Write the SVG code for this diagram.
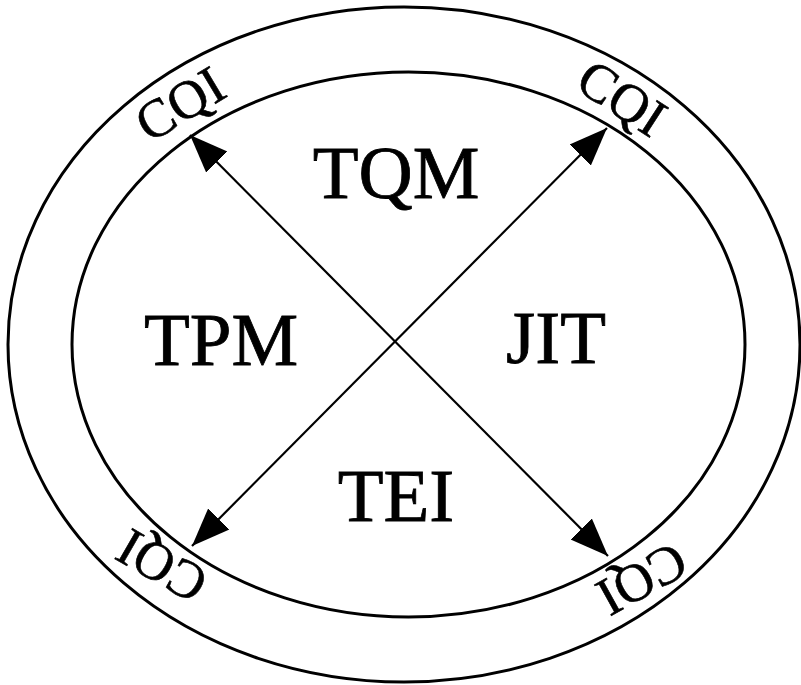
<svg xmlns="http://www.w3.org/2000/svg" width="801" height="685" viewBox="0 0 801 685">
<style>
.ring{fill:none;stroke:#000;stroke-width:3}
.conn{stroke:#000;stroke-width:2.2;fill:none}
.big{font-family:"Liberation Serif","Times New Roman",serif;font-size:75px;text-anchor:middle;fill:#000;stroke:#000;stroke-width:0.8}
.cqi{font-family:"Liberation Serif","Times New Roman",serif;font-size:54px;text-anchor:middle;fill:#000;stroke:#000;stroke-width:0.6}
</style>
<defs>
<marker id="ah" markerUnits="userSpaceOnUse" markerWidth="40" markerHeight="32" viewBox="0 0 40 32" refX="38" refY="16" orient="auto-start-reverse">
<path d="M0,1 L38,16 L0,31 z" fill="#000"/>
</marker>
</defs>
<rect width="801" height="685" fill="#fff"/>
<g id="outer-ring"><ellipse class="ring" cx="404" cy="344.5" rx="396" ry="337.5"/></g>
<g id="inner-ring"><ellipse class="ring" cx="408.5" cy="344.5" rx="336.5" ry="272.5"/></g>
<g id="connectors">
<line class="conn" x1="190" y1="135" x2="608" y2="556" marker-start="url(#ah)" marker-end="url(#ah)"/>
<line class="conn" x1="607" y1="128" x2="192" y2="546" marker-start="url(#ah)" marker-end="url(#ah)"/>
</g>
<g id="tqm"><text class="big" x="396" y="198">TQM</text></g>
<g id="tpm"><text class="big" x="221" y="365">TPM</text></g>
<g id="jit"><text class="big" x="556" y="363">JIT</text></g>
<g id="tei"><text class="big" x="396" y="521">TEI</text></g>
<g id="cqi-tl"><text class="cqi" transform="translate(180,104) rotate(-31)" y="18">CQI</text></g>
<g id="cqi-tr"><text class="cqi" transform="translate(622,98) rotate(33)" y="18">CQI</text></g>
<g id="cqi-bl"><text class="cqi" transform="translate(162,566) rotate(210)" y="18">CQI</text></g>
<g id="cqi-br"><text class="cqi" transform="translate(642,579) rotate(151)" y="18">CQI</text></g>
</svg>
